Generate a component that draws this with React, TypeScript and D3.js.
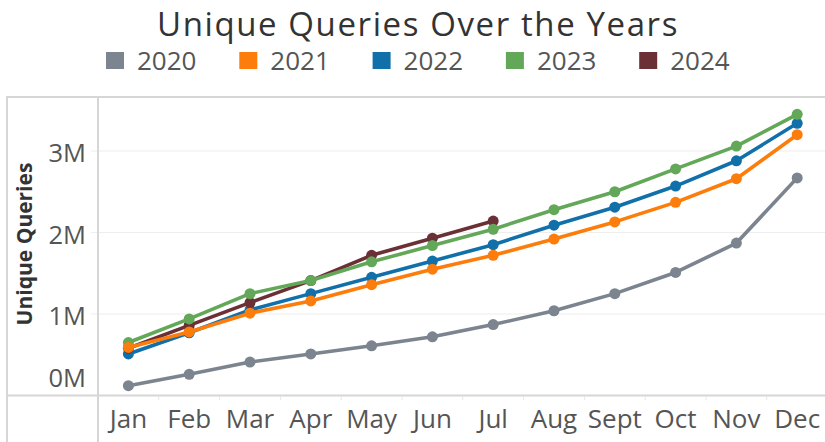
import React from "react";
import * as d3 from "d3";

const months = ["Jan", "Feb", "Mar", "Apr", "May", "Jun", "Jul", "Aug", "Sept", "Oct", "Nov", "Dec"];
const years = ["2020", "2021", "2022", "2023", "2024"];
const colors = ["#7b848f", "#fc7d0b", "#1170aa", "#63a758", "#6b2f36"];

const q2020 = [120000, 260000, 410000, 510000, 610000, 720000, 870000, 1040000, 1250000, 1510000, 1870000, 2670000];
const q2021 = [590000, 780000, 1010000, 1160000, 1360000, 1550000, 1720000, 1920000, 2130000, 2370000, 2660000, 3200000];
const q2022 = [510000, 770000, 1050000, 1250000, 1450000, 1650000, 1850000, 2090000, 2310000, 2570000, 2880000, 3340000];
const q2023 = [650000, 940000, 1250000, 1410000, 1640000, 1840000, 2040000, 2280000, 2500000, 2780000, 3060000, 3450000];
const q2024 = [580000, 860000, 1140000, 1410000, 1720000, 1930000, 2140000];

const yTicks = [0, 1000000, 2000000, 3000000];
const yTickLabels = ["0M", "1M", "2M", "3M"];

const seriesValues = [q2020, q2021, q2022, q2023, q2024];
// drawing order (later on top)
const drawOrder = [0, 2, 4, 3, 1];

const W = 825;
const H = 442;
const FONT = "'Open Sans', 'Noto Sans', sans-serif";

export default function App() {
  const x = d3.scaleBand<string>().domain(months).range([98, 98 + 12 * 60.8]);
  const y = d3.scaleLinear().domain([0, 3000000]).range([395.5, 151]);
  const cx = (m: string) => (x(m) as number) + x.bandwidth() / 2;
  const line = d3
    .line<number>()
    .x((_, i) => cx(months[i]))
    .y((d) => y(d));

  const legendX = d3.scaleLinear().domain([0, 1]).range([106, 239.3]);

  return (
    <svg
      width={W}
      height={H}
      style={{ position: "absolute", left: 0, top: 0, background: "#fff" }}
      fontFamily={FONT}
    >
      <rect x={0} y={0} width={W} height={H} fill="#fff" />
      {/* Title */}
      <text x={418} y={35.5} textAnchor="middle" fontSize={33} letterSpacing={1.6} fill="#333">
        Unique Queries Over the Years
      </text>
      {/* Legend */}
      {years.map((yr, i) => (
        <g key={yr} transform={`translate(${legendX(i)},0)`}>
          <rect x={0} y={52} width={18} height={17} fill={colors[i]} />
          <text x={31} y={70} fontSize={26} fill="#555">
            {yr}
          </text>
        </g>
      ))}

      {/* gridlines */}
      {yTicks.slice(1).map((t) => (
        <line key={t} x1={91} x2={W} y1={y(t)} y2={y(t)} stroke="#eeeeee" strokeWidth={1.2} />
      ))}
      {/* band separators below axis */}
      {months.slice(1).map((m) => (
        <line
          key={m}
          x1={x(m) as number}
          x2={x(m) as number}
          y1={396.5}
          y2={400}
          stroke="#e6e6e6"
          strokeWidth={1}
        />
      ))}
      {/* frame */}
      <line x1={7} x2={W} y1={97} y2={97} stroke="#d6d6d6" strokeWidth={2} />
      <line x1={7} x2={W} y1={395.5} y2={395.5} stroke="#d6d6d6" strokeWidth={2} />
      <line x1={7} x2={7} y1={96} y2={H} stroke="#d6d6d6" strokeWidth={2} />
      <line x1={98} x2={98} y1={96} y2={H} stroke="#d6d6d6" strokeWidth={2} />

      {/* y tick labels */}
      {yTicks.map((t, i) => (
        <text
          key={t}
          x={86}
          y={Math.min(y(t) + 11, 387)}
          textAnchor="end"
          fontSize={25.5}
          fill="#555"
        >
          {yTickLabels[i]}
        </text>
      ))}
      {/* y axis title */}
      <text
        transform="translate(32,244) rotate(-90)"
        textAnchor="middle"
        fontSize={21}
        fontWeight={700}
        fill="#333"
      >
        Unique Queries
      </text>

      {/* x labels */}
      {months.map((m) => (
        <text key={m} x={cx(m)} y={428} textAnchor="middle" fontSize={26} fill="#555">
          {m}
        </text>
      ))}

      {/* series */}
      {drawOrder.map((si) => (
        <g key={years[si]}>
          <path
            d={line(seriesValues[si]) as string}
            fill="none"
            stroke={colors[si]}
            strokeWidth={3.6}
            strokeLinejoin="round"
          />
          {seriesValues[si].map((v, i) => (
            <circle key={i} cx={cx(months[i])} cy={y(v)} r={5.5} fill={colors[si]} />
          ))}
        </g>
      ))}
    </svg>
  );
}
